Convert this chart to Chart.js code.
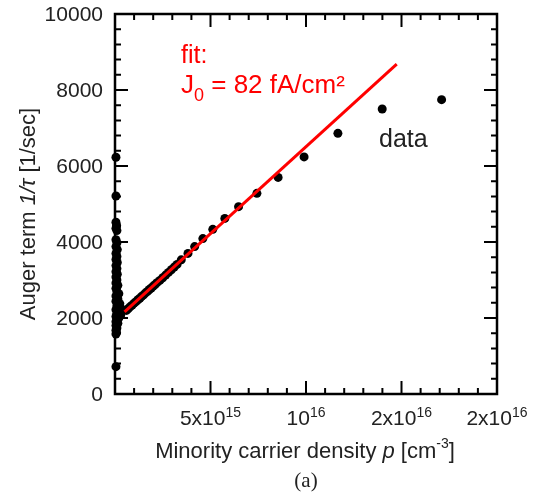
<!DOCTYPE html>
<html>
<head>
<meta charset="utf-8">
<script src="https://cdn.jsdelivr.net/npm/chart.js@4.4.1/dist/chart.umd.min.js"></script>
<style>
  html, body { margin: 0; padding: 0; background: #fff; }
  #wrap { width: 543px; height: 495px; }
</style>
</head>
<body>
<div id="wrap"><canvas id="myChart"></canvas></div>
<script>
// x values in units of 1e15 cm^-3
const clusterX = [0.05, 0.05, 0.05, 0.08, 0.05, 0.1, 0.05, 0.1, 0.05, 0.12, 0.05, 0.1, 0.05, 0.12, 0.05, 0.1,
  0.05, 0.12, 0.05, 0.1, 0.05, 0.15, 0.05, 0.1, 0.2, 0.05, 0.15, 0.05, 0.25, 0.1, 0.3, 0.05, 0.2, 0.4, 0.1, 0.3,
  0.05, 0.2, 0.1, 0.05, 0.15, 0.05, 0.1, 0.05, 0.08, 0.05, 0.05];
const clusterY = [6230, 5210, 4520, 4440, 4360, 4300, 4060, 3980, 3880, 3800, 3700, 3620, 3540, 3460, 3380, 3300,
  3220, 3150, 3080, 3000, 2920, 2860, 2780, 2700, 2640, 2580, 2500, 2440, 2380, 2320, 2260, 2220, 2180, 2200, 2120, 2080,
  2040, 2000, 1960, 1900, 1860, 1800, 1740, 1680, 1620, 1580, 720];
const lineX = [0.6, 0.7, 0.8, 0.9, 1.0, 1.1, 1.2, 1.3, 1.4, 1.5, 1.6, 1.7, 1.8, 1.9, 2.0, 2.1, 2.2, 2.35, 2.5, 2.65,
  2.8, 2.95, 3.1, 3.25, 3.47, 3.82, 4.17, 4.6, 5.12, 5.75, 6.47, 7.43, 8.54, 9.9, 11.67, 13.99, 17.1];
const lineY = [2200, 2250, 2300, 2340, 2390, 2430, 2480, 2520, 2570, 2610, 2660, 2700, 2750, 2790, 2840, 2880, 2930, 2990, 3060, 3130,
  3200, 3270, 3340, 3410, 3530, 3700, 3880, 4090, 4334, 4620, 4930, 5280, 5700, 6240, 6860, 7500, 7745];
const fitX = [0.5, 14.75];
const fitY = [2160, 8680];

const xTickValues = [5, 10, 15, 20];
const xTickBase = ['5x10', '10', '2x10', '2x10'];
const xTickExp = ['15', '16', '16', '16'];
const yTickValues = [0, 2000, 4000, 6000, 8000, 10000];

const FONT = '"Liberation Sans", Arial, sans-serif';

function pts(xs, ys) { return xs.map((x, i) => ({ x: x, y: ys[i] })); }

// draw a run of text pieces: [{t, size, style, dy}]
function drawRun(ctx, parts, x, y, align) {
  let total = 0;
  parts.forEach(p => {
    ctx.font = (p.style || '') + ' ' + p.size + 'px ' + FONT;
    p.w = ctx.measureText(p.t).width;
    total += p.w;
  });
  let cx = align === 'center' ? x - total / 2 : (align === 'right' ? x - total : x);
  ctx.textAlign = 'left';
  parts.forEach(p => {
    ctx.font = (p.style || '') + ' ' + p.size + 'px ' + FONT;
    ctx.fillText(p.t, cx, y + (p.dy || 0));
    cx += p.w;
  });
}

const framePlugin = {
  id: 'frame',
  afterDraw(chart) {
    const ctx = chart.ctx;
    const a = chart.chartArea;
    const xs = chart.scales.x, ys = chart.scales.y;
    ctx.save();
    ctx.strokeStyle = '#000';
    ctx.lineWidth = 2.5;
    ctx.strokeRect(a.left, a.top, a.right - a.left, a.bottom - a.top);
    ctx.lineWidth = 2;
    ctx.beginPath();
    for (let v = 1; v < 20; v++) {
      const px = xs.getPixelForValue(v);
      const len = v % 5 === 0 ? 13 : 6;
      ctx.moveTo(px, a.bottom); ctx.lineTo(px, a.bottom - len);
      ctx.moveTo(px, a.top); ctx.lineTo(px, a.top + len);
    }
    for (let v = 400; v < 10000; v += 400) {
      const py = ys.getPixelForValue(v);
      const len = v % 2000 === 0 ? 13 : 6;
      ctx.moveTo(a.left, py); ctx.lineTo(a.left + len, py);
      ctx.moveTo(a.right, py); ctx.lineTo(a.right - len, py);
    }
    ctx.stroke();

    // tick labels
    ctx.fillStyle = '#222';
    ctx.textBaseline = 'middle';
    ctx.font = '21px ' + FONT;
    ctx.textAlign = 'right';
    yTickValues.forEach(v => ctx.fillText(String(v), a.left - 12, ys.getPixelForValue(v) + 1));
    ctx.textBaseline = 'alphabetic';
    xTickValues.forEach((v, i) => {
      drawRun(ctx, [
        { t: xTickBase[i], size: 21 },
        { t: xTickExp[i], size: 14, dy: -8 }
      ], xs.getPixelForValue(v), 425, 'center');
    });

    // axis titles
    drawRun(ctx, [
      { t: 'Minority carrier density ', size: 22 },
      { t: 'p', size: 22, style: 'italic' },
      { t: ' [cm', size: 22 },
      { t: '-3', size: 14, dy: -10 },
      { t: ']', size: 22 }
    ], 305, 458, 'center');
    ctx.save();
    ctx.translate(35, 214);
    ctx.rotate(-Math.PI / 2);
    drawRun(ctx, [
      { t: 'Auger term ', size: 22 },
      { t: '1/τ', size: 22, style: 'italic' },
      { t: ' [1/sec]', size: 22 }
    ], 0, 0, 'center');
    ctx.restore();

    ctx.font = '21px "Liberation Serif", "Times New Roman", serif';
    ctx.textAlign = 'center';
    ctx.fillText('(a)', 306, 487);

    // annotations
    ctx.fillStyle = '#222';
    ctx.font = '25px ' + FONT;
    ctx.textAlign = 'left';
    ctx.fillText('data', 379, 147);
    ctx.fillStyle = '#f00';
    ctx.fillText('fit:', 181, 63);
    drawRun(ctx, [
      { t: 'J', size: 26 },
      { t: '0', size: 18, dy: 8 },
      { t: ' = 82 fA/cm²', size: 26 }
    ], 181, 93, 'left');
    ctx.restore();
  }
};

new Chart(document.getElementById('myChart'), {
  type: 'scatter',
  data: {
    datasets: [
      {
        label: 'fit',
        data: pts(fitX, fitY),
        showLine: true,
        borderColor: '#f00',
        borderWidth: 3,
        pointRadius: 0,
        order: 0
      },
      {
        label: 'data',
        data: pts(clusterX, clusterY).concat(pts(lineX, lineY)),
        backgroundColor: '#000',
        borderColor: '#000',
        pointRadius: 4.5,
        borderWidth: 0,
        clip: false,
        order: 1
      }
    ]
  },
  options: {
    responsive: true,
    maintainAspectRatio: false,
    animation: false,
    layout: { padding: { left: 115, top: 14, right: 46, bottom: 101 } },
    plugins: { legend: { display: false }, tooltip: { enabled: false } },
    scales: {
      x: { type: 'linear', min: 0, max: 20, display: false },
      y: { type: 'linear', min: 0, max: 10000, display: false }
    }
  },
  plugins: [framePlugin]
});
</script>
</body>
</html>
